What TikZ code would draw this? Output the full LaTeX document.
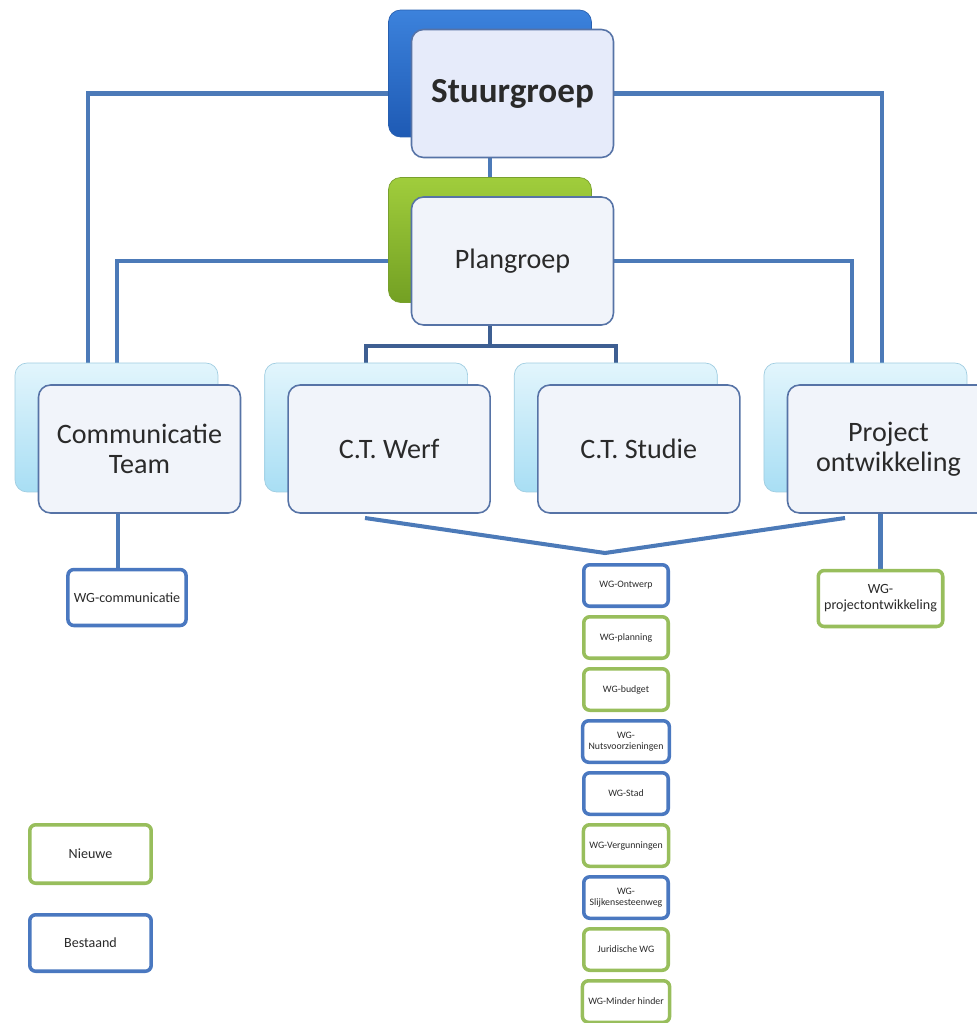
\documentclass[tikz,border=0pt]{standalone}
\usepackage{fontspec}
\setmainfont{Carlito}
\usepackage{tikz}
\usetikzlibrary{positioning,calc}
\definecolor{lineblue}{HTML}{4C7AB8}
\definecolor{darkline}{HTML}{3E5F92}
\definecolor{frameblue}{HTML}{5673A6}
\definecolor{wgblue}{HTML}{4A78C0}
\definecolor{wggreen}{HTML}{98BE5C}
\definecolor{textgray}{HTML}{2A2A2A}
\pgfdeclarelayer{bg}
\pgfsetlayers{bg,main}
\tikzstyle{front} = [rectangle, rounded corners=0.24cm, minimum width=4.04cm, minimum height=2.56cm, draw=frameblue, line width=0.9pt, fill={rgb,255:red,241;green,244;blue,250}, text centered, align=center, text=textgray, font=\fontsize{16}{17}\selectfont]
\tikzstyle{stuurbg} = [rectangle, rounded corners=0.24cm, minimum width=4.06cm, minimum height=2.54cm, top color={rgb,255:red,60;green,130;blue,220}, bottom color={rgb,255:red,30;green,90;blue,180}, draw={rgb,255:red,40;green,95;blue,175}]
\tikzstyle{planbg} = [rectangle, rounded corners=0.24cm, minimum width=4.06cm, minimum height=2.5cm, top color={rgb,255:red,160;green,205;blue,60}, bottom color={rgb,255:red,115;green,160;blue,35}, draw={rgb,255:red,120;green,160;blue,45}]
\tikzstyle{ctbg} = [rectangle, rounded corners=0.24cm, minimum width=4.06cm, minimum height=2.58cm, top color={rgb,255:red,226;green,245;blue,252}, bottom color={rgb,255:red,168;green,222;blue,244}, draw={rgb,255:red,160;green,205;blue,225}]
\tikzstyle{wgb} = [rectangle, rounded corners=0.12cm, minimum width=1.69cm, minimum height=0.83cm, draw=wgblue, line width=2pt, fill=white, text centered, align=center, text=textgray, font=\fontsize{5.6}{6.4}\selectfont]
\tikzstyle{wgg} = [wgb, draw=wggreen]
\tikzstyle{wgbig} = [wgb, minimum width=2.34cm, minimum height=1.12cm, font=\fontsize{8}{9}\selectfont]
\tikzstyle{conn} = [draw=lineblue, line width=2.3pt]
\tikzstyle{conn2} = [draw=darkline, line width=2pt]

\begin{document}
\begin{tikzpicture}[x=0.02cm, y=-0.02cm, node distance=0.14cm]
\useasboundingbox (0,0) rectangle (976,1023);

% top
\node[stuurbg] (stuurbg) at (490,73.5) {};
\node[front, fill={rgb,255:red,230;green,235;blue,250}, font=\fontsize{20}{22}\selectfont\bfseries] (stuur) at ([shift={(22.5,20)}]stuurbg.center) {Stuurgroep};
\node[planbg] (planbg) at (490,240) {};
\node[front] (plan) at ([shift={(22.5,21)}]planbg.center) {Plangroep};

% teams
\node[ctbg] (ct1bg) at (116.5,427.5) {};
\node[ctbg, right=0.92cm of ct1bg] (ct2bg) {};
\node[ctbg, right=0.92cm of ct2bg] (ct3bg) {};
\node[ctbg, right=0.92cm of ct3bg] (ct4bg) {};
\node[front] (ct1) at ([shift={(23,21.5)}]ct1bg.center) {Communicatie\\Team};
\node[front] (ct2) at ([shift={(23,21.5)}]ct2bg.center) {C.T. Werf};
\node[front] (ct3) at ([shift={(23,21.5)}]ct3bg.center) {C.T. Studie};
\node[front] (ct4) at ([shift={(23,21.5)}]ct4bg.center) {Project\\ontwikkeling};

% werkgroepen
\node[wgbig, draw=wgblue] (wgcom) at (127,597.5) {WG-communicatie};
\node[wgbig, draw=wggreen] (wgproj) at (880.5,598.5) {WG-\\projectontwikkeling};
\node[wgb] (wg1) at (626,585.5) {WG-Ontwerp};
\node[wgg, below=of wg1] (wg2) {WG-planning};
\node[wgg, below=of wg2] (wg3) {WG-budget};
\node[wgb, below=of wg3] (wg4) {WG-\\Nutsvoorzieningen};
\node[wgb, below=of wg4] (wg5) {WG-Stad};
\node[wgg, below=of wg5] (wg6) {WG-Vergunningen};
\node[wgb, below=of wg6] (wg7) {WG-\\Slijkensesteenweg};
\node[wgg, below=of wg7] (wg8) {Juridische WG};
\node[wgg, below=of wg8] (wg9) {WG-Minder hinder};

% legende
\node[wgbig, draw=wggreen, minimum width=2.43cm, minimum height=1.17cm] (leg1) at (90.5,854) {Nieuwe};
\node[wgbig, draw=wgblue, minimum width=2.43cm, minimum height=1.13cm, below=0.56cm of leg1] (leg2) {Bestaand};

%lines
\begin{pgfonlayer}{bg}
\draw[conn] (stuur.west) -| ([xshift=1.46cm]ct1bg.north west);
\draw[conn] (stuur.east) -| ([xshift=2.36cm]ct4bg.north west);
\draw[conn] (plan.west) -| ([xshift=2.04cm]ct1bg.north west);
\draw[conn] (plan.east) -| ([xshift=1.76cm]ct4bg.north west);
\draw[conn] (stuur.south -| planbg.north) -- (planbg.north);
\coordinate (split) at ($(planbg.north |- plan.south)+(0,20)$);
\draw[conn2] (planbg.north |- plan.south) -- (split);
\draw[conn2] (ct2bg.north) |- (split) -| (ct3bg.north);
\draw[conn] ([xshift=-0.18cm]wgcom.north) -- ([xshift=-0.18cm]wgcom.north |- ct1.south);
\draw[conn] (wgproj.north) -- (wgproj.north |- ct4.south);
\end{pgfonlayer}
\coordinate (vleft) at (365,518);
\coordinate (vtip) at (605,553);
\coordinate (vright) at (845,518);
\draw[conn] (vleft) -- (vtip) -- (vright);

\end{tikzpicture}
\end{document}
